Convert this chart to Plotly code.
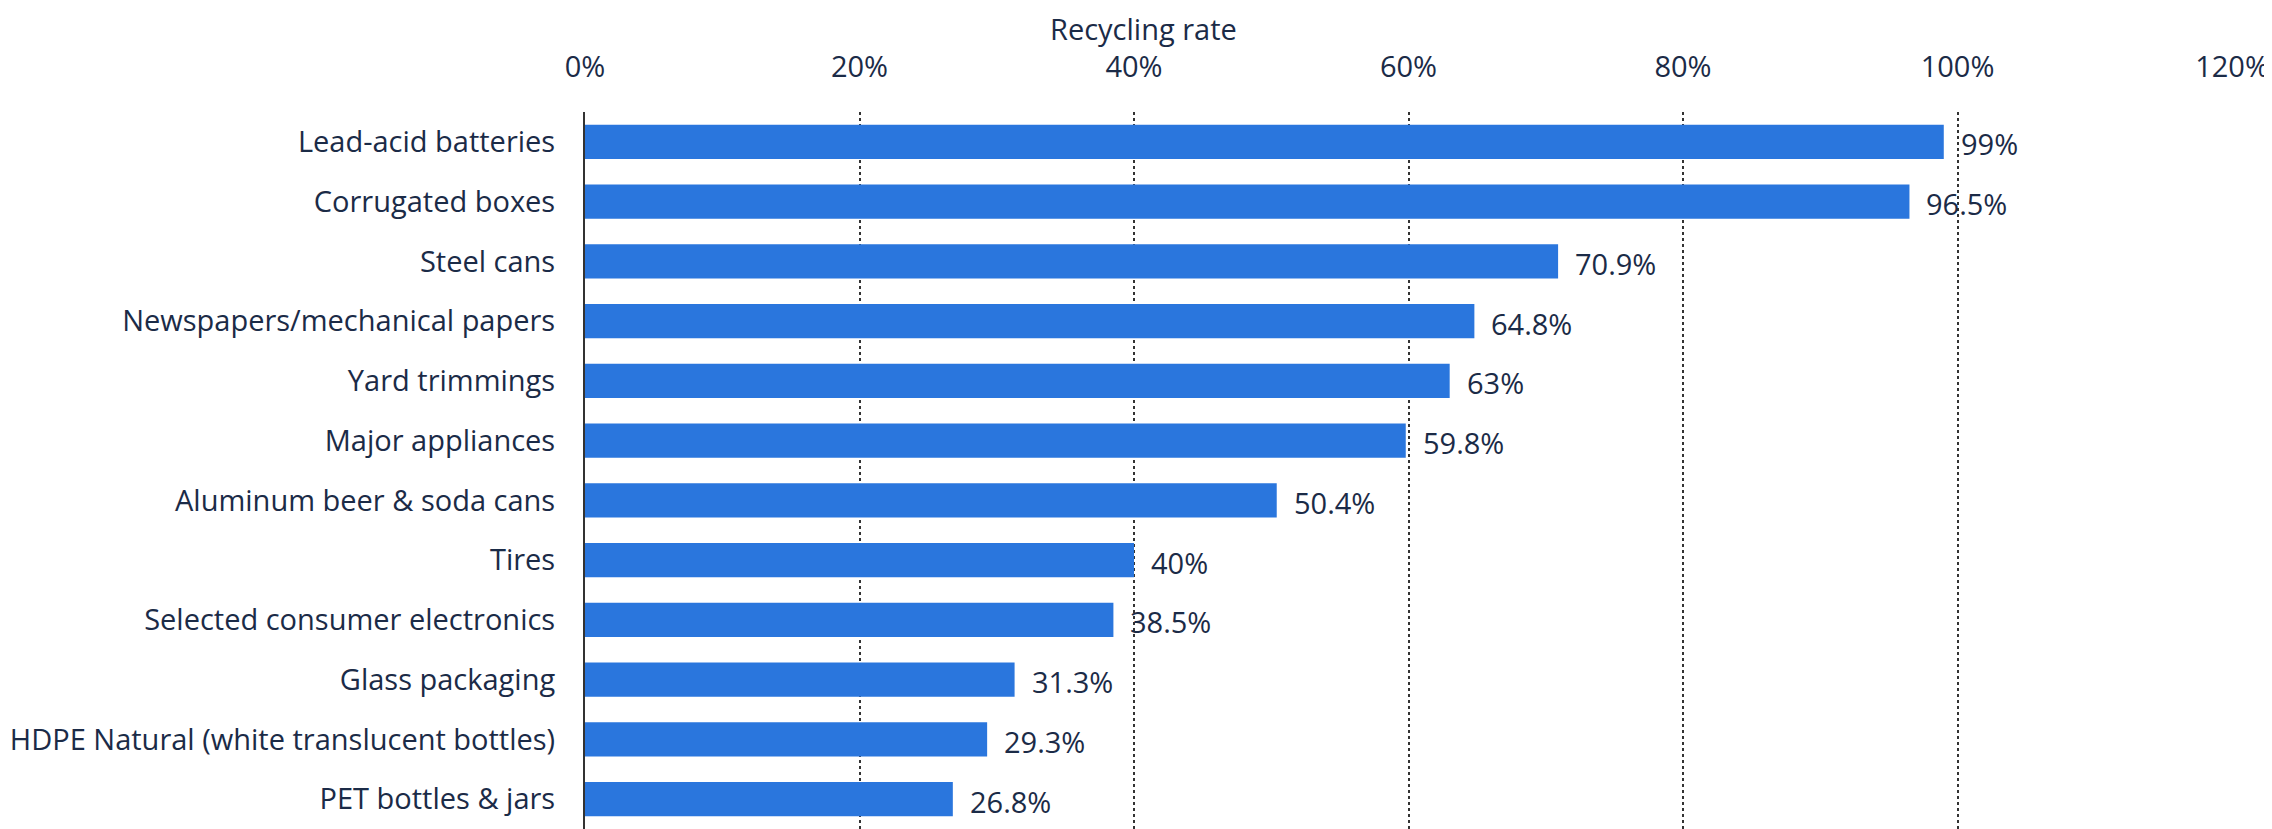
import plotly.graph_objects as go

categories = [
    "Lead-acid batteries",
    "Corrugated boxes",
    "Steel cans",
    "Newspapers/mechanical papers",
    "Yard trimmings",
    "Major appliances",
    "Aluminum beer & soda cans",
    "Tires",
    "Selected consumer electronics",
    "Glass packaging",
    "HDPE Natural (white translucent bottles)",
    "PET bottles & jars",
]
values = [99, 96.5, 70.9, 64.8, 63, 59.8, 50.4, 40, 38.5, 31.3, 29.3, 26.8]
value_labels = ["99%", "96.5%", "70.9%", "64.8%", "63%", "59.8%", "50.4%", "40%",
                "38.5%", "31.3%", "29.3%", "26.8%"]
tick_vals = [0, 20, 40, 60, 80, 100, 120]
tick_text = ["0%", "20%", "40%", "60%", "80%", "100%", "120%"]
axis_title = "Recycling rate"

TEXT = "#1b2b47"
BAR = "#2a76dd"
FONT = "Open Sans"
FS = 29

fig = go.Figure()
fig.add_trace(go.Bar(
    x=values, y=categories, orientation="h",
    marker=dict(color=BAR, line=dict(width=0)),
    hoverinfo="skip",
))

for v, c, t in zip(values, categories, value_labels):
    fig.add_annotation(x=v, y=c, xref="x", yref="y", text=t, showarrow=False,
                       xanchor="left", yanchor="middle", xshift=15, yshift=-2,
                       font=dict(family=FONT, size=FS, color=TEXT))

fig.add_annotation(x=0.339, y=1.0, xref="paper", yref="paper", text=axis_title,
                   showarrow=False, xanchor="center", yanchor="top", yshift=104,
                   borderpad=0,
                   font=dict(family=FONT, size=FS, color=TEXT))

fig.update_layout(
    width=2264, height=821,
    margin=dict(l=577, r=40, t=104, b=0, pad=0),
    paper_bgcolor="white", plot_bgcolor="white",
    bargap=0.43,
    showlegend=False,
    font=dict(family=FONT, size=FS, color=TEXT),
    xaxis=dict(
        range=[0, 120], side="top", tickvals=tick_vals, ticktext=tick_text,
        showgrid=True, gridcolor="#333333", griddash="dot", gridwidth=1.5,
        zeroline=False, showline=False, ticks="",
        ticklabelstandoff=28,
        tickfont=dict(family=FONT, size=FS, color=TEXT),
        fixedrange=True,
    ),
    yaxis=dict(
        autorange="reversed", showgrid=False, zeroline=False,
        showline=True, linecolor="#333333", linewidth=2,
        ticks="", ticklabelstandoff=22,
        tickfont=dict(family=FONT, size=FS, color=TEXT),
        fixedrange=True,
    ),
)

fig.write_html("out.html")
